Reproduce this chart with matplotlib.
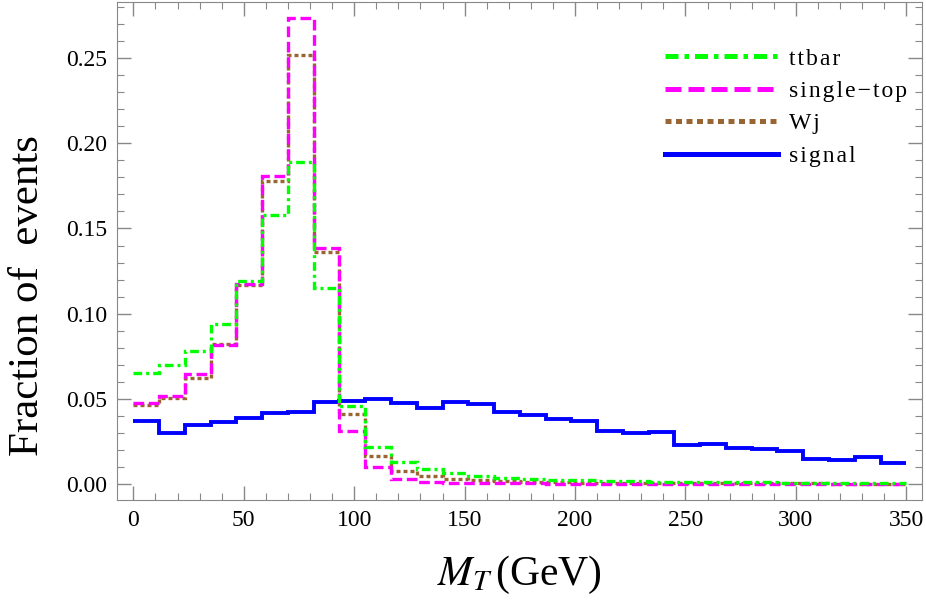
import matplotlib.pyplot as plt
import numpy as np
from matplotlib.ticker import MultipleLocator

plt.rcParams['font.family'] = ['Liberation Serif', 'DejaVu Serif']
plt.rcParams['mathtext.fontset'] = 'stix'

# 30 bins of M_T from 0 to 350 GeV
edges = np.linspace(0, 350, 31)

ttbar = [0.065, 0.070, 0.078, 0.094, 0.119, 0.158, 0.189, 0.115, 0.046, 0.022,
         0.013, 0.0088, 0.0062, 0.0049, 0.0036, 0.0031, 0.0025, 0.0021, 0.0018, 0.0016,
         0.0014, 0.0012, 0.0011, 0.0010, 0.0009, 0.0008, 0.0007, 0.0006, 0.0006, 0.0005]
single_top = [0.0477, 0.0516, 0.0645, 0.0814, 0.1174, 0.181, 0.2736, 0.1388, 0.031, 0.0097,
              0.003, 0.0012, 0.0006, 0.0004, 0.0003, 0.0003, 0.0002, 0.0002, 0.0002, 0.0002,
              0.0002, 0.0002, 0.0001, 0.0001, 0.0001, 0.0001, 0.0001, 0.0001, 0.0001, 0.0001]
wj = [0.0463, 0.0506, 0.062, 0.0824, 0.117, 0.178, 0.2521, 0.136, 0.0409, 0.0162,
      0.0078, 0.0045, 0.003, 0.0024, 0.0016, 0.0012, 0.0009, 0.0007, 0.0006, 0.0005,
      0.0004, 0.0004, 0.0003, 0.0003, 0.0003, 0.0003, 0.0003, 0.0002, 0.0002, 0.0002]
signal = [0.0368, 0.0300, 0.0347, 0.0364, 0.0387, 0.0415, 0.0425, 0.0483, 0.0490, 0.0497,
          0.0477, 0.0446, 0.0483, 0.0467, 0.0425, 0.0403, 0.0380, 0.0368, 0.0311, 0.0302,
          0.0306, 0.0228, 0.0232, 0.0210, 0.0203, 0.0191, 0.0148, 0.0142, 0.0158, 0.0125]

# letter-spaced legend labels, like the original
def spaced(s):
    return '\u200a'.join(s)

fig = plt.figure(figsize=(9.26, 6), dpi=100)
ax = fig.add_axes([0.1264, 0.1667, 0.869, 0.83])

ax.stairs(signal, edges, baseline=None, color='#0000ff', lw=2.8, label=spaced('signal'))
ax.stairs(wj, edges, baseline=None, color='#996633', lw=2.4,
          linestyle=(0, (1.2, 0.9)), label=spaced('Wj'))
ax.stairs(single_top, edges, baseline=None, color='#ff00ff', lw=2.4,
          linestyle=(0, (3.2, 1.4)), label=spaced('single\u2212top'))
ax.stairs(ttbar, edges, baseline=None, color='#00ff00', lw=2.4,
          linestyle=(0, (2.6, 1.2, 0.9, 1.2)), label=spaced('ttbar'))

ax.set_xlim(-7.4, 357)
ax.set_ylim(-0.0094, 0.283)

ax.xaxis.set_major_locator(MultipleLocator(50))
ax.xaxis.set_minor_locator(MultipleLocator(10))
ax.yaxis.set_major_locator(MultipleLocator(0.05))
ax.yaxis.set_minor_locator(MultipleLocator(0.01))
ax.yaxis.set_major_formatter(plt.FormatStrFormatter('%.2f'))
ax.tick_params(which='both', direction='in', top=True, right=True, color='#888888',
               labelsize=17, pad=7)
ax.tick_params(which='major', length=10, width=1)
ax.tick_params(which='minor', length=5, width=0.8)
for s in ax.spines.values():
    s.set_color('#888888')

ax.set_xlabel(r'$M_T\,$(GeV)', fontsize=30, labelpad=17)
ax.set_ylabel('Fraction of  events', fontsize=31)
ax.yaxis.set_label_coords(-0.087, 0.41)

h, l = ax.get_legend_handles_labels()
leg = ax.legend(h[::-1], l[::-1], loc='upper left', bbox_to_anchor=(0.655, 0.95),
                frameon=False, fontsize=17, handlelength=4.75, handletextpad=0.5,
                labelspacing=0.46)
for line in leg.get_lines():
    line.set_linewidth(3.6)

fig.savefig('out.png', dpi=100)
